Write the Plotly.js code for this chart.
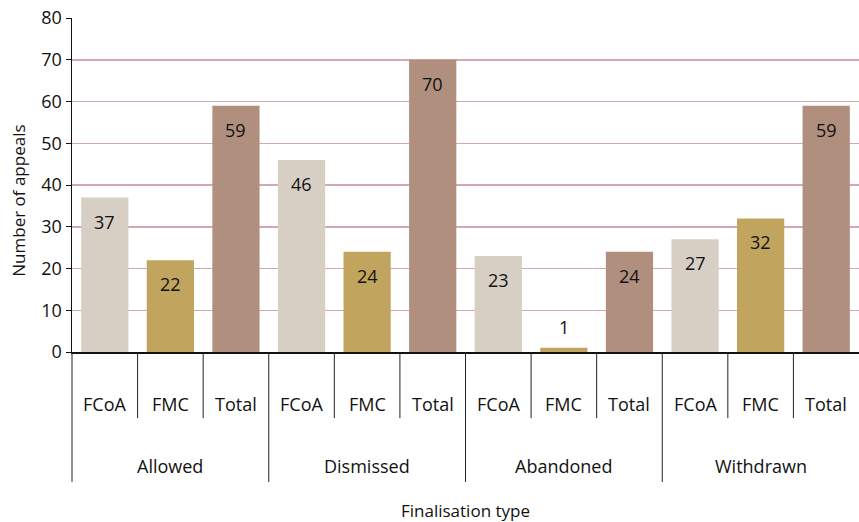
<!DOCTYPE html>
<html>
<head>
<meta charset="utf-8">
<script src="https://cdn.plot.ly/plotly-3.0.1.min.js"></script>
<style>html,body{margin:0;padding:0;background:#fff;}#chart{width:859px;height:522px;}</style>
</head>
<body>
<div id="chart"></div>
<script>
const groups = ['Allowed', 'Dismissed', 'Abandoned', 'Withdrawn'];
const subTypes = ['FCoA', 'FMC', 'Total'];
const fcoaValues = [37, 46, 23, 27];
const fmcValues = [22, 24, 1, 32];
const totalValues = [59, 70, 24, 59];
const subColors = {FCoA: '#d7cfc4', FMC: '#c1a55f', Total: '#b08f7e'};

const seriesBySub = {FCoA: fcoaValues, FMC: fmcValues, Total: totalValues};
const xs = [], ys = [], cols = [], subLabels = [], groupOf = [];
groups.forEach((g, gi) => {
  subTypes.forEach((s, si) => {
    xs.push(gi * subTypes.length + si);
    ys.push(seriesBySub[s][gi]);
    cols.push(subColors[s]);
    subLabels.push(s);
    groupOf.push(g);
  });
});

const FONT = 'Open Sans, Noto Sans, sans-serif';
const fs = 18;

const annotations = [];
// value labels
xs.forEach((x, i) => {
  const v = ys[i];
  annotations.push({
    x: x, y: v, xref: 'x', yref: 'y', text: String(v), showarrow: false,
    yanchor: 'middle', yshift: v < 5 ? 21 : -24,
    font: {family: FONT, size: fs, color: '#111'}
  });
});
// inner category labels
xs.forEach((x, i) => {
  annotations.push({
    x: x, y: -0.156, xref: 'x', yref: 'paper', text: subLabels[i], showarrow: false,
    yanchor: 'middle', font: {family: FONT, size: fs, color: '#111'}
  });
});
// group labels
groups.forEach((g, gi) => {
  annotations.push({
    x: gi * subTypes.length + (subTypes.length - 1) / 2, y: -0.341, xref: 'x', yref: 'paper',
    text: g, showarrow: false, yanchor: 'middle', font: {family: FONT, size: fs, color: '#111'}
  });
});
// y axis title
annotations.push({
  x: -0.069, y: 0.452, xref: 'paper', yref: 'paper', text: 'Number of appeals',
  textangle: -90, showarrow: false, xanchor: 'center', yanchor: 'middle',
  font: {family: FONT, size: 17, color: '#111'}
});

const shapes = [];
for (let b = 0; b < xs.length; b++) {
  const isGroup = b % subTypes.length === 0;
  const shp = {
    type: 'line', yref: 'paper', y0: 0, y1: isGroup ? -0.389 : -0.198,
    line: {color: '#222', width: 1}
  };
  if (b === 0) { shp.xref = 'x domain'; shp.x0 = 0; shp.x1 = 0; }
  else { shp.xref = 'x'; shp.x0 = b - 0.5; shp.x1 = b - 0.5; }
  shapes.push(shp);
}

const trace = {
  type: 'bar', x: xs, y: ys, marker: {color: cols, line: {width: 0}},
  hoverinfo: 'skip', showlegend: false
};

const layout = {
  width: 859, height: 522,
  margin: {l: 72, r: 0, t: 18, b: 170},
  paper_bgcolor: '#fff', plot_bgcolor: '#fff',
  bargap: 0.28,
  font: {family: FONT, size: fs, color: '#111'},
  xaxis: {
    range: [-0.5, xs.length - 0.5], showticklabels: false, ticks: '',
    showgrid: false, zeroline: false, showline: true, linecolor: '#111', linewidth: 1.5,
    title: {text: 'Finalisation type', standoff: 153, font: {family: FONT, size: 17, color: '#111'}},
    automargin: false, fixedrange: true
  },
  yaxis: {
    range: [0, 80], dtick: 10, tick0: 0, ticks: 'outside', ticklen: 5, tickcolor: '#111',
    showline: true, linecolor: '#111', linewidth: 1.5,
    showgrid: true, gridcolor: '#d4a8ac', gridwidth: 1.5, zeroline: false,
    tickfont: {family: FONT, size: 18, color: '#111'},
    automargin: false, fixedrange: true
  },
  annotations: annotations,
  shapes: shapes
};

Plotly.newPlot('chart', [trace], layout, {staticPlot: true, displayModeBar: false});
</script>
</body>
</html>
